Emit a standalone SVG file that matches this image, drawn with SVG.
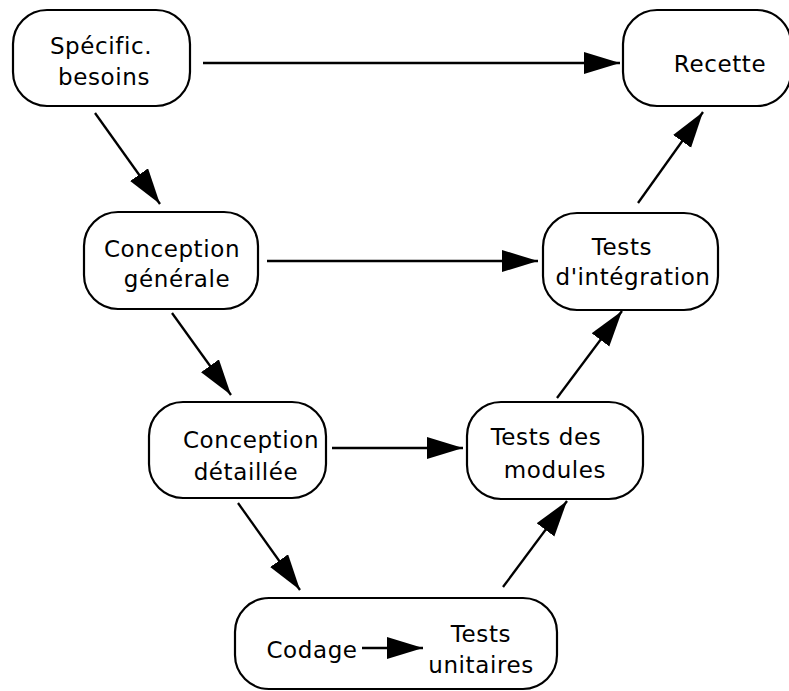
<svg xmlns="http://www.w3.org/2000/svg" width="789" height="691" viewBox="0 0 789 691">
<style>
.box{fill:#fff;stroke:#000;stroke-width:2.2}
.t{font-family:"DejaVu Sans",sans-serif;font-size:23px;fill:#000;text-anchor:middle;letter-spacing:0.6px}
.c{stroke:#000;stroke-width:2.3;fill:none;marker-end:url(#ah)}
</style>
<defs>
<marker id="ah" markerUnits="userSpaceOnUse" markerWidth="40" markerHeight="24" refX="36" refY="11" orient="auto" viewBox="0 0 40 24">
<path d="M0,0 L36,11 L0,22 z" fill="#000"/>
</marker>
</defs>
<rect width="789" height="691" fill="#fff"/>
<g id="connectors">
<line class="c" x1="203" y1="63" x2="620" y2="63"/>
<line class="c" x1="95" y1="113" x2="160" y2="204"/>
<line class="c" x1="267" y1="261" x2="538" y2="261"/>
<line class="c" x1="172" y1="313" x2="231" y2="395"/>
<line class="c" x1="332" y1="448" x2="463" y2="448"/>
<line class="c" x1="238" y1="503" x2="300" y2="590"/>
<line class="c" x1="503" y1="587" x2="567" y2="501"/>
<line class="c" x1="557" y1="398" x2="622" y2="311"/>
<line class="c" x1="638" y1="203" x2="703" y2="112"/>
</g>
<g id="specific">
<rect class="box" x="13" y="10" width="177" height="96" rx="34"/>
<text class="t" x="101" y="54">Spécific.</text>
<text class="t" x="104" y="85">besoins</text>
</g>
<g id="recette">
<rect class="box" x="623" y="10" width="168" height="96" rx="34"/>
<text class="t" x="720" y="72">Recette</text>
</g>
<g id="conception-generale">
<rect class="box" x="84" y="212" width="174" height="97" rx="34"/>
<text class="t" x="172" y="257">Conception</text>
<text class="t" x="177" y="287">générale</text>
</g>
<g id="tests-integration">
<rect class="box" x="543" y="213" width="175" height="97" rx="34"/>
<text class="t" x="622" y="255">Tests</text>
<text class="t" x="633" y="285">d'intégration</text>
</g>
<g id="conception-detaillee">
<rect class="box" x="149" y="402" width="177" height="96" rx="34"/>
<text class="t" x="251" y="448">Conception</text>
<text class="t" x="246" y="480">détaillée</text>
</g>
<g id="tests-modules">
<rect class="box" x="467" y="402" width="176" height="97" rx="34"/>
<text class="t" x="546" y="445">Tests des</text>
<text class="t" x="555" y="478">modules</text>
</g>
<g id="codage-tests-unitaires">
<rect class="box" x="235" y="598" width="322" height="91" rx="34"/>
<text class="t" x="312" y="658">Codage</text>
<line class="c" x1="362" y1="648" x2="423" y2="648"/>
<text class="t" x="481" y="642">Tests</text>
<text class="t" x="481" y="673">unitaires</text>
</g>
</svg>
